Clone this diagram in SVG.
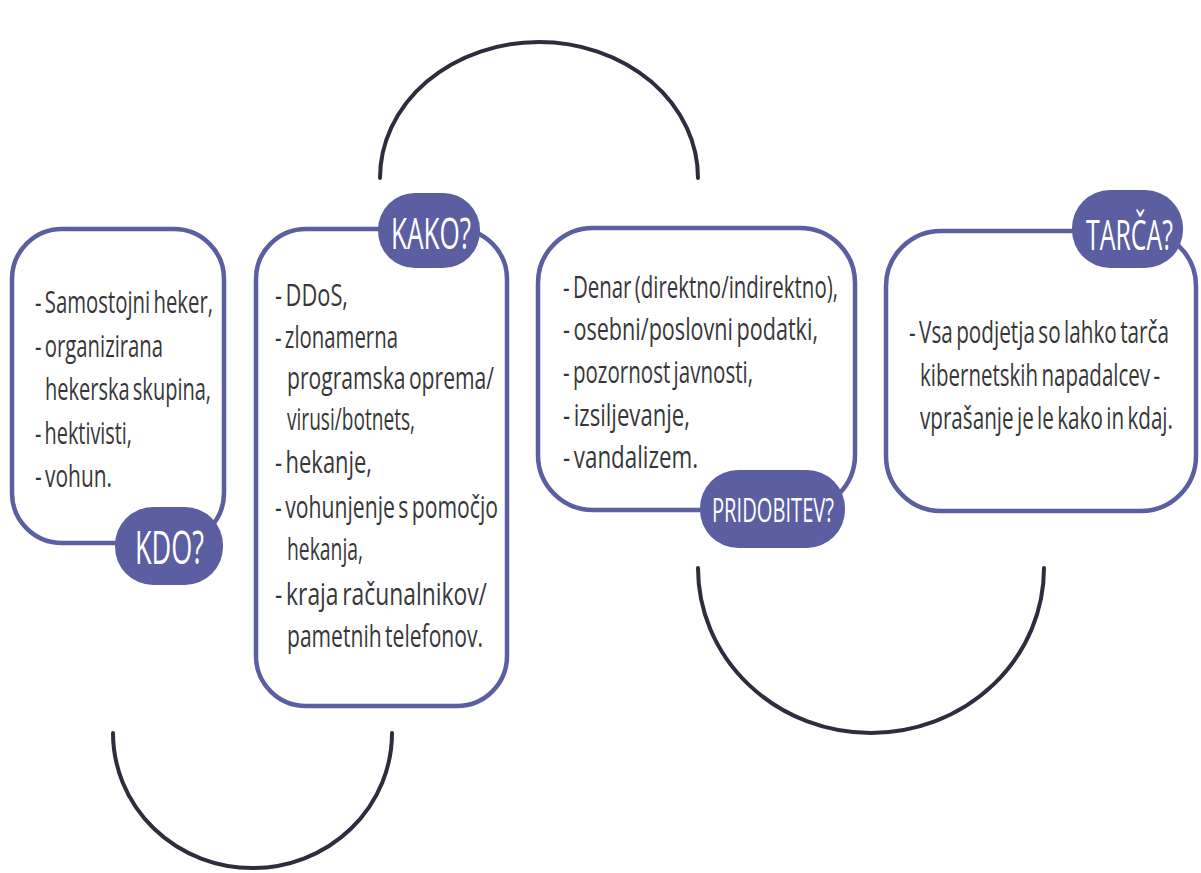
<svg xmlns="http://www.w3.org/2000/svg" width="1201" height="873" viewBox="0 0 1201 873">
<style>
.box{fill:#ffffff;stroke:#5b5ea0;stroke-width:4.5}
.pill{fill:#5b5ea0;stroke:none}
.t{font-family:"Open Sans","Noto Sans",sans-serif;font-size:31px;font-weight:500;fill:#37373a;word-spacing:-3px}
.pt{font-family:"Open Sans","Noto Sans",sans-serif;fill:#ffffff}
.arc{fill:none;stroke:#2c2e3e;stroke-width:4;stroke-linecap:round}
</style>
<rect width="1201" height="873" fill="#ffffff"/>
<g id="connectors">
<path class="arc" d="M380 178 A159 136 0 0 1 698 178"/>
<path class="arc" d="M113 733 A139.5 135 0 0 0 392 733"/>
<path class="arc" d="M698 568 A173 165 0 0 0 1044 568"/>
</g>
<g id="kdo">
<rect class="box" x="12" y="229" width="212" height="314" rx="50"/>
<rect class="pill" x="115" y="507" width="108" height="78" rx="38"/>
<text class="pt" x="135" y="564" font-size="46" textLength="69" lengthAdjust="spacingAndGlyphs">KDO?</text>
<text class="t" x="35" y="313" textLength="178" lengthAdjust="spacingAndGlyphs">- Samostojni heker,</text>
<text class="t" x="35" y="357" textLength="128" lengthAdjust="spacingAndGlyphs">- organizirana</text>
<text class="t" x="45" y="400" textLength="166" lengthAdjust="spacingAndGlyphs">hekerska skupina,</text>
<text class="t" x="35" y="444" textLength="97" lengthAdjust="spacingAndGlyphs">- hektivisti,</text>
<text class="t" x="35" y="487" textLength="77" lengthAdjust="spacingAndGlyphs">- vohun.</text>
</g>
<g id="kako">
<rect class="box" x="256" y="229" width="251" height="477" rx="50"/>
<rect class="pill" x="378" y="193" width="102" height="75" rx="37"/>
<text class="pt" x="391" y="249" font-size="44" textLength="80" lengthAdjust="spacingAndGlyphs">KAKO?</text>
<text class="t" x="275" y="306" textLength="73" lengthAdjust="spacingAndGlyphs">- DDoS,</text>
<text class="t" x="275" y="348" textLength="123" lengthAdjust="spacingAndGlyphs">- zlonamerna</text>
<text class="t" x="287" y="389" textLength="207" lengthAdjust="spacingAndGlyphs">programska oprema/</text>
<text class="t" x="287" y="430" textLength="128" lengthAdjust="spacingAndGlyphs">virusi/botnets,</text>
<text class="t" x="275" y="473" textLength="97" lengthAdjust="spacingAndGlyphs">- hekanje,</text>
<text class="t" x="275" y="518" textLength="223" lengthAdjust="spacingAndGlyphs">- vohunjenje s pomočjo</text>
<text class="t" x="287" y="560" textLength="76" lengthAdjust="spacingAndGlyphs">hekanja,</text>
<text class="t" x="275" y="605" textLength="212" lengthAdjust="spacingAndGlyphs">- kraja računalnikov/</text>
<text class="t" x="287" y="647" textLength="196" lengthAdjust="spacingAndGlyphs">pametnih telefonov.</text>
</g>
<g id="pridobitev">
<rect class="box" x="538" y="228" width="317" height="282" rx="55"/>
<rect class="pill" x="700" y="470" width="145" height="78" rx="38"/>
<text class="pt" x="712" y="522" font-size="32" textLength="122" lengthAdjust="spacingAndGlyphs">PRIDOBITEV?</text>
<text class="t" x="563" y="298" textLength="275" lengthAdjust="spacingAndGlyphs">- Denar (direktno/indirektno),</text>
<text class="t" x="563" y="340" textLength="255" lengthAdjust="spacingAndGlyphs">- osebni/poslovni podatki,</text>
<text class="t" x="563" y="383" textLength="190" lengthAdjust="spacingAndGlyphs">- pozornost javnosti,</text>
<text class="t" x="563" y="426" textLength="127" lengthAdjust="spacingAndGlyphs">- izsiljevanje,</text>
<text class="t" x="563" y="468" textLength="135" lengthAdjust="spacingAndGlyphs">- vandalizem.</text>
</g>
<g id="tarca">
<rect class="box" x="886" y="231" width="310" height="280" rx="55"/>
<rect class="pill" x="1072" y="190" width="111" height="78" rx="38"/>
<text class="pt" x="1086" y="250" font-size="42" textLength="87" lengthAdjust="spacingAndGlyphs">TARČA?</text>
<text class="t" x="909" y="343" textLength="260" lengthAdjust="spacingAndGlyphs">- Vsa podjetja so lahko tarča</text>
<text class="t" x="920" y="386" textLength="240" lengthAdjust="spacingAndGlyphs">kibernetskih napadalcev -</text>
<text class="t" x="920" y="429" textLength="253" lengthAdjust="spacingAndGlyphs">vprašanje je le kako in kdaj.</text>
</g>
</svg>
